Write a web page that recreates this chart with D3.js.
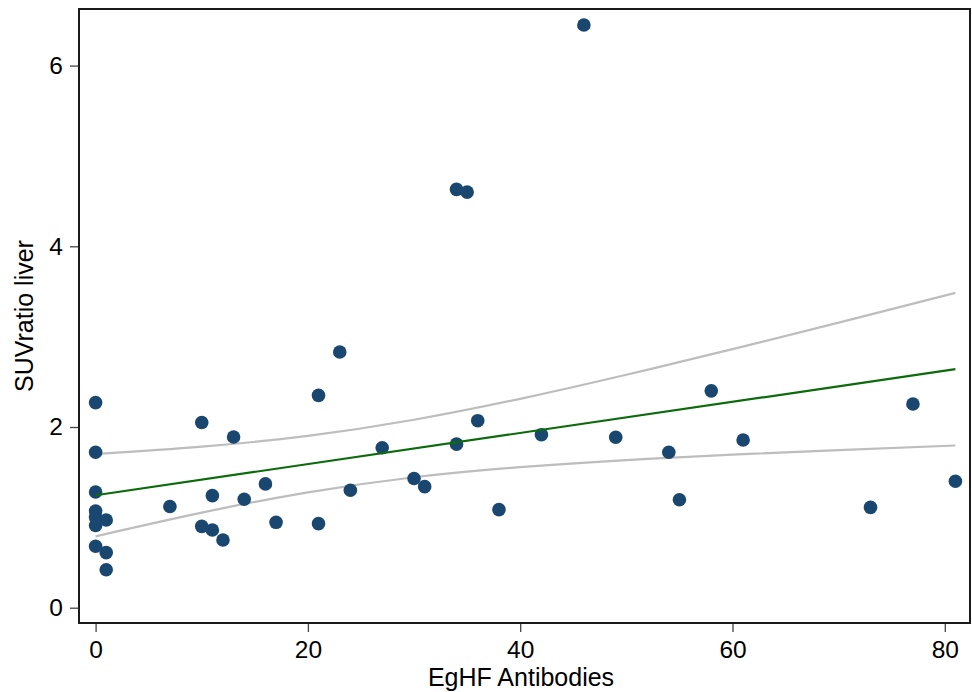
<!DOCTYPE html>
<html>
<head>
<meta charset="utf-8">
<script src="https://cdn.jsdelivr.net/npm/d3@7"></script>
<style>
  html, body { margin: 0; padding: 0; background: #fff; }
  svg { display: block; }
  text { font-family: "Liberation Sans", Arial, sans-serif; fill: #000; }
</style>
</head>
<body>
<script>
// ---- data ----
const antibodies = [0,0,0,0,0,0,0, 1,1,1, 7, 10,10, 11,11, 12, 13, 14, 16, 17, 21,21, 23, 24, 27, 30, 31, 34,34, 35, 36, 38, 42, 46, 49, 54, 55, 58, 61, 73, 77, 81];
const suvRatio   = [2.27,1.72,1.28,1.07,1.00,0.91,0.68, 0.97,0.61,0.42, 1.12, 2.05,0.90, 1.24,0.86, 0.75, 1.89, 1.20, 1.37, 0.945, 2.35,0.93, 2.83, 1.30, 1.77, 1.43, 1.34, 4.63,1.81, 4.60, 2.07, 1.085, 1.915, 6.45, 1.886, 1.72, 1.195, 2.40, 1.856, 1.11, 2.255, 1.40];

const fitX = [0, 81];
const fitY = [1.245, 2.640];

const ciX     = [0, 10, 20, 30, 40, 50, 60, 70, 81];
const ciUpper = [1.700, 1.782, 1.902, 2.080, 2.312, 2.578, 2.862, 3.155, 3.485];
const ciLower = [0.790, 1.052, 1.276, 1.444, 1.556, 1.634, 1.694, 1.745, 1.795];

const xTicks = [0, 20, 40, 60, 80];
const yTicks = [0, 2, 4, 6];
const xTitle = "EgHF Antibodies";
const yTitle = "SUVratio liver";

// ---- layout ----
const W = 972, H = 692;
const frame = { left: 79, right: 970, top: 9, bottom: 623 };

const x = d3.scaleLinear().domain([0, 80]).range([95.6, 944.8]);
const y = d3.scaleLinear().domain([0, 6]).range([607.7, 65.6]);

const svg = d3.select("body").append("svg").attr("width", W).attr("height", H);

// CI lines
const ciLine = d3.line().x(d => x(d[0])).y(d => y(d[1])).curve(d3.curveNatural);
svg.append("path")
  .datum(ciX.map((v, i) => [v, ciUpper[i]]))
  .attr("d", ciLine).attr("fill", "none").attr("stroke", "#bdbdbd").attr("stroke-width", 2.2);
svg.append("path")
  .datum(ciX.map((v, i) => [v, ciLower[i]]))
  .attr("d", ciLine).attr("fill", "none").attr("stroke", "#bdbdbd").attr("stroke-width", 2.2);

// points
svg.append("g").selectAll("circle")
  .data(antibodies.map((v, i) => [v, suvRatio[i]]))
  .join("circle")
  .attr("cx", d => x(d[0])).attr("cy", d => y(d[1]))
  .attr("r", 6.8).attr("fill", "#1a476f");

// fit line
svg.append("path")
  .datum(fitX.map((v, i) => [v, fitY[i]]))
  .attr("d", d3.line().x(d => x(d[0])).y(d => y(d[1])))
  .attr("fill", "none").attr("stroke", "#0b6b0b").attr("stroke-width", 2.2);

// axes
const xAxis = d3.axisBottom(x).tickValues(xTicks).tickSize(9).tickPadding(9).tickFormat(d3.format("d"));
const gx = svg.append("g").attr("transform", `translate(0,${frame.bottom})`).call(xAxis);
gx.select(".domain").remove();
gx.selectAll(".tick line").attr("stroke", "#444").attr("stroke-width", 1.3);
gx.selectAll(".tick text").attr("font-size", 24.5).attr("font-family", "Liberation Sans, Arial, sans-serif").attr("dy", "0.71em").attr("fill", "#000");

const yAxis = d3.axisLeft(y).tickValues(yTicks).tickSize(9).tickPadding(7).tickFormat(d3.format("d"));
const gy = svg.append("g").attr("transform", `translate(${frame.left},0)`).call(yAxis);
gy.select(".domain").remove();
gy.selectAll(".tick line").attr("stroke", "#444").attr("stroke-width", 1.3);
gy.selectAll(".tick text").attr("font-size", 24.5).attr("font-family", "Liberation Sans, Arial, sans-serif").attr("fill", "#000");

// frame
svg.append("rect")
  .attr("x", frame.left).attr("y", frame.top)
  .attr("width", frame.right - frame.left).attr("height", frame.bottom - frame.top)
  .attr("fill", "none").attr("stroke", "#1a1a1a").attr("stroke-width", 2);

// titles
svg.append("text").attr("x", 521).attr("y", 686).attr("text-anchor", "middle")
  .attr("font-size", 25).text(xTitle);
svg.append("text").attr("transform", "translate(33,316) rotate(-90)").attr("text-anchor", "middle")
  .attr("font-size", 25).text(yTitle);
</script>
</body>
</html>
